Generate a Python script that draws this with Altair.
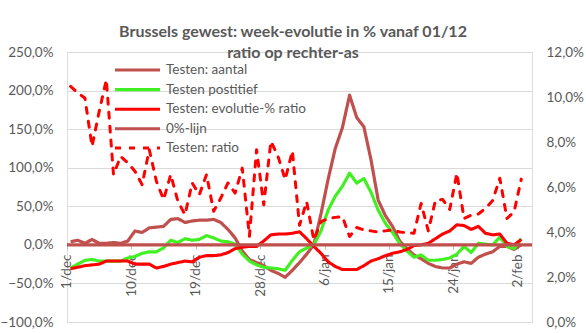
import altair as alt
import pandas as pd

# ---------------- data ----------------
day_index = list(range(64))  # 1/dec .. 2/feb
tick_days = [0, 9, 18, 27, 36, 45, 54, 63]
tick_labels = ["1/dec", "10/dec", "19/dec", "28/dec", "6/jan", "15/jan", "24/jan", "2/feb"]

series_names = ["Testen: aantal", "Testen postitief", "Testen: evolutie-% ratio", "0%-lijn", "Testen: ratio"]
series_colors = ["#C0504D", "#40F020", "#FF0000", "#C0504D", "#FF0000"]
series_dash = [[1, 0], [1, 0], [1, 0], [1, 0], [6, 8]]
series_width = [3.2, 3, 3, 2.6, 5]

# left axis (%)
testen_aantal = [4, 6, 2, 7, 2, 2, 3, 2, 5, 18, 16, 22, 23, 24, 33, 34, 29, 31, 32, 32,
                 33, 29, 20, 9, -8, -19, -23, -27, -33, -37, -42, -33, -23, -12, 0, 40, 85, 125, 152, 194,
                 165, 153, 110, 58, 38, 24, 5, -5, -13, -18, -24, -28, -30, -30, -25, -22, -24, -16, -12, -9,
                 -2, -2, -6, 0]
testen_positief = [-30, -25, -20, -19, -21, -21, -21, -21, -17, -15, -11, -9, -9, -4, 6, 3, 8, 6, 7, 12,
                   9, 5, 4, 1, -12, -21, -26, -29, -30, -31, -33, -20, -9, -4, 0, 18, 45, 63, 76, 93,
                   80, 86, 68, 45, 28, 16, 2, -8, -16, -13, -20, -20, -19, -17, -12, -2, -10, 2, 1, 0,
                   10, -2, -5, 8]
evolutie_ratio = [-31, -29, -27, -26, -25, -21, -21, -21, -21, -25, -25, -25, -30, -28, -25, -23, -21, -22, -16, -14,
                  -14, -13, -10, -5, -3, -2, -2, 5, 13, 14, 14, 15, 17, 8, -2, -11, -22, -28, -32, -32,
                  -32, -27, -21, -18, -14, -11, -9, -6, -1, 0, 2, 8, 14, 18, 26, 25, 20, 24, 15, 13,
                  14, 2, 0, 7]
zero_line = [0]
# right axis (%)
testen_ratio = [10.47, 10.18, 9.96, 7.81, 9.36, 10.77, 6.55, 7.36, 7.07, 6.7, 6.1, 7.66, 6.25, 5.44, 6.55, 5.36,
                4.77, 6.18, 5.66, 6.55, 4.92, 5.51, 6.18, 5.73, 6.84, 3.81, 7.66, 5.21, 8.03, 7.36, 6.33, 7.6,
                4.3, 5.35, 3.64, 4.46, 4.6, 4.65, 4.68, 3.8, 4.2, 4.09, 4.05, 4.0, 4.05, 4.09, 4.0, 3.97,
                3.94, 5.27, 4.05, 5.4, 5.45, 5.0, 6.61, 4.6, 4.75, 4.8, 5.05, 5.4, 6.39, 4.6, 4.9, 6.35]

left_ticks = [-100, -50, 0, 50, 100, 150, 200, 250]
right_ticks = [0, 2, 4, 6, 8, 10, 12]

rows = []
for name, vals in [(series_names[0], testen_aantal),
                   (series_names[1], testen_positief),
                   (series_names[2], evolutie_ratio)]:
    for d, v in zip(day_index, vals):
        rows.append({"day": d, "series": name, "value": v})
left_df = pd.DataFrame(rows)
zero_df = pd.DataFrame({"series": [series_names[3]] * len(zero_line), "value": zero_line})
ratio_df = pd.DataFrame({"day": day_index, "series": series_names[4], "value": testen_ratio})

# ---------------- styling ----------------
FONT = "Lato"
TXT = "#595959"
pct_expr = "replace(format(datum.value, '.1f'), '.', ',') + '%'"
x_label_expr = ("[" + ",".join("'%s'" % l for l in tick_labels) + "][indexof(["
                + ",".join(str(t) for t in tick_days) + "], datum.value)]")

x_enc = alt.X("day:Q",
              scale=alt.Scale(domain=[-0.5, 64.5], nice=False, zero=False),
              axis=alt.Axis(title=None, values=tick_days, labelExpr=x_label_expr, labelAngle=-90,
                            offset=-77, grid=False, domain=False, ticks=True, tickSize=4,
                            tickOffset=-3.58, tickColor="#BFBFBF", labelPadding=5,
                            labelFlush=False, labelOverlap=False,
                            labelFont=FONT, labelFontSize=13.5, labelColor=TXT))

y_left = alt.Y("value:Q",
               scale=alt.Scale(domain=[-100, 250], nice=False, zero=False),
               axis=alt.Axis(title=None, values=left_ticks, labelExpr=pct_expr, grid=True,
                             gridColor="#D9D9D9", gridWidth=1, domain=False, ticks=False,
                             labelPadding=14, labelFont=FONT, labelFontSize=13.5, labelColor=TXT))

y_right = alt.Y("value:Q",
                scale=alt.Scale(domain=[0, 12], nice=False, zero=False),
                axis=alt.Axis(orient="right", title=None, values=right_ticks, labelExpr=pct_expr,
                              grid=False, domain=False, ticks=False, labelPadding=14,
                              labelFont=FONT, labelFontSize=13.5, labelColor=TXT))

legend = alt.Legend(title=None, orient="none", legendX=46, legendY=8.5,
                    symbolType="M-1,0H5", symbolSize=225, labelOffset=34, rowPadding=3.6,
                    labelFont=FONT, labelFontSize=13.5, labelColor=TXT, padding=0, labelLimit=400)

color = alt.Color("series:N", scale=alt.Scale(domain=series_names, range=series_colors), legend=legend)
dash = alt.StrokeDash("series:N", scale=alt.Scale(domain=series_names, range=series_dash), legend=legend)
swidth = alt.StrokeWidth("series:N", scale=alt.Scale(domain=series_names, range=series_width), legend=legend)


def line_layer(name):
    return (alt.Chart(left_df)
            .transform_filter(alt.datum.series == name)
            .mark_line(strokeJoin="round", strokeCap="butt")
            .encode(x=x_enc, y=y_left, color=color, strokeDash=dash, strokeWidth=swidth))


zero_rule = (alt.Chart(zero_df).mark_rule()
             .encode(y=y_left, color=color, strokeDash=dash, strokeWidth=swidth))

left = alt.layer(line_layer(series_names[0]), line_layer(series_names[1]),
                 line_layer(series_names[2]), zero_rule)

right = (alt.Chart(ratio_df)
         .mark_line(strokeJoin="round", strokeCap="round")
         .encode(x=x_enc, y=y_right, color=color, strokeDash=dash, strokeWidth=swidth))

chart = (alt.layer(left, right)
         .resolve_scale(y="independent")
         .properties(width=465, height=270,
                     title=alt.Title(text=["Brussels gewest: week-evolutie in % vanaf 01/12",
                                           "ratio op rechter-as"],
                                     font=FONT, fontSize=16, fontWeight="bold", color=TXT,
                                     anchor="middle", frame="group", dx=-6.5, offset=-15.5,
                                     lineHeight=21),
                     padding={"left": 67, "top": 52, "right": 54, "bottom": 11},
                     autosize=alt.AutoSizeParams(type="none"))
         .configure_view(strokeWidth=0)
         .configure(background="white"))

chart.save("out.html", embed_options={"renderer": "svg", "actions": False})
